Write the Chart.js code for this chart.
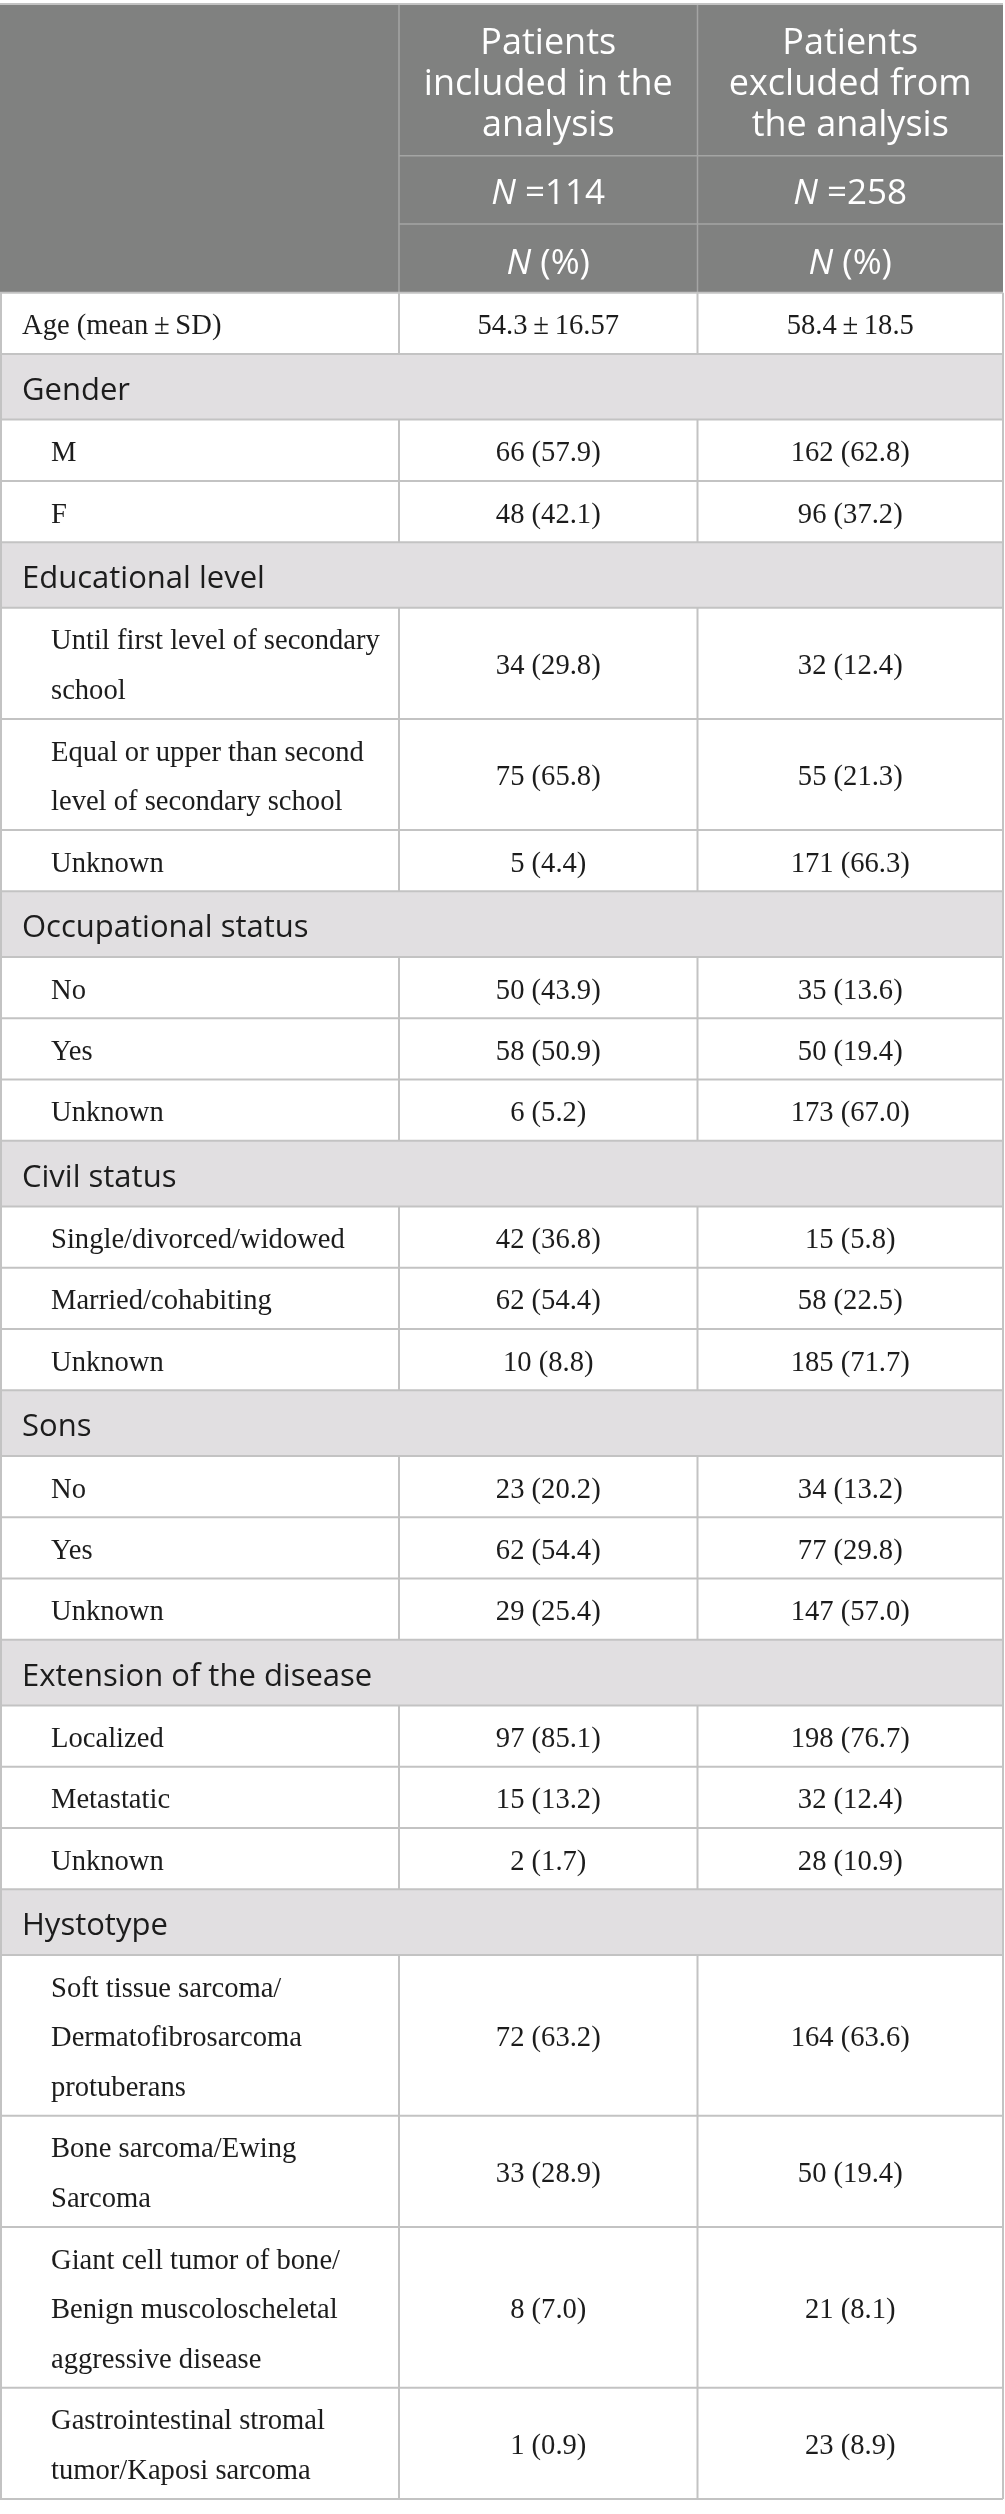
<!DOCTYPE html>
<html>
<head>
<meta charset="utf-8">
<title>Patients included / excluded</title>
<script src="https://cdn.jsdelivr.net/npm/chart.js@4.4.1/dist/chart.umd.min.js"></script>
<style>
    html, body { margin: 0; padding: 0; background: #fff; }
    #wrap { position: relative; width: 1005px; height: 2514px; }
</style>
</head>
<body>
<div id="wrap"><canvas id="tableChart"></canvas></div>
<script>
// Column headers
const columnTitles = [
    ['Patients', 'included in the', 'analysis'],
    ['Patients', 'excluded from', 'the analysis']
];
const groupSizes = [114, 258];

// Age row
const ageLabel = 'Age (mean\u2009±\u2009SD)';
const ageMean = [54.3, 58.4];
const ageSD = [16.57, 18.5];

// Body rows: a row with no counts is a section heading
const rowLabels = [
    'Gender', 'M', 'F',
    'Educational level',
    ['Until first level of secondary', 'school'],
    ['Equal or upper than second', 'level of secondary school'],
    'Unknown',
    'Occupational status', 'No', 'Yes', 'Unknown',
    'Civil status', 'Single/divorced/widowed', 'Married/cohabiting', 'Unknown',
    'Sons', 'No', 'Yes', 'Unknown',
    'Extension of the disease', 'Localized', 'Metastatic', 'Unknown',
    'Hystotype',
    ['Soft tissue sarcoma/', 'Dermatofibrosarcoma', 'protuberans'],
    ['Bone sarcoma/Ewing', 'Sarcoma'],
    ['Giant cell tumor of bone/', 'Benign muscoloscheletal', 'aggressive disease'],
    ['Gastrointestinal stromal', 'tumor/Kaposi sarcoma']
];
const includedN   = [null, 66, 48, null, 34, 75, 5, null, 50, 58, 6, null, 42, 62, 10, null, 23, 62, 29, null, 97, 15, 2, null, 72, 33, 8, 1];
const includedPct = [null, 57.9, 42.1, null, 29.8, 65.8, 4.4, null, 43.9, 50.9, 5.2, null, 36.8, 54.4, 8.8, null, 20.2, 54.4, 25.4, null, 85.1, 13.2, 1.7, null, 63.2, 28.9, 7.0, 0.9];
const excludedN   = [null, 162, 96, null, 32, 55, 171, null, 35, 50, 173, null, 15, 58, 185, null, 34, 77, 147, null, 198, 32, 28, null, 164, 50, 21, 23];
const excludedPct = [null, 62.8, 37.2, null, 12.4, 21.3, 66.3, null, 13.6, 19.4, 67.0, null, 5.8, 22.5, 71.7, null, 13.2, 29.8, 57.0, null, 76.7, 12.4, 10.9, null, 63.6, 19.4, 8.1, 8.9];

// Layout (in axis units, 1 unit = 1 px of the page)
const colEdges = [0, 399, 697.5, 1003];
const tableTop = 4;
const headRows = [151.7, 68.3, 68.7];
const oneLineRow = 61.3;
const lineStep = 49.8;
const sectionRow = 65.6;

const sansFont = "'Open Sans', 'Noto Sans', sans-serif";
const serifFont = "'Liberation Serif', 'Times New Roman', serif";

function drawParts(ctx, parts, cx, y, size) {
    let total = 0;
    parts.forEach(p => {
        ctx.font = (p.italic ? 'italic ' : '') + size + 'px ' + sansFont;
        p.w = ctx.measureText(p.t).width;
        total += p.w;
    });
    let x = cx - total / 2;
    ctx.textAlign = 'left';
    parts.forEach(p => {
        ctx.font = (p.italic ? 'italic ' : '') + size + 'px ' + sansFont;
        ctx.fillText(p.t, x, y);
        x += p.w;
    });
}

const tablePlugin = {
    id: 'tablePlugin',
    afterDraw(chart) {
        const ctx = chart.ctx;
        const xs = chart.scales.x;
        const ys = chart.scales.y;
        const X = v => xs.getPixelForValue(v);
        const Y = v => ys.getPixelForValue(v);
        const colX = colEdges.map(X);
        const colMid = [1, 2].map(i => (colX[i] + colX[i + 1]) / 2);

        ctx.save();
        ctx.textBaseline = 'alphabetic';

        // Header block
        const h0 = tableTop, h1 = h0 + headRows[0], h2 = h1 + headRows[1], h3 = h2 + headRows[2];
        ctx.fillStyle = '#808180';
        ctx.fillRect(colX[0], Y(h0), colX[3] - colX[0], Y(h3) - Y(h0));
        ctx.strokeStyle = '#a4a5a4';
        ctx.lineWidth = 1.5;
        ctx.beginPath();
        [h1, h2].forEach(v => { ctx.moveTo(colX[1], Y(v)); ctx.lineTo(colX[3], Y(v)); });
        [1, 2].forEach(i => { ctx.moveTo(colX[i], Y(h0)); ctx.lineTo(colX[i], Y(h3)); });
        ctx.stroke();

        ctx.fillStyle = '#ffffff';
        ctx.textAlign = 'center';
        ctx.font = '36px ' + sansFont;
        columnTitles.forEach((lines, c) => {
            lines.forEach((t, i) => ctx.fillText(t, colMid[c], Y(h0 + 49.5 + i * 41)));
        });
        groupSizes.forEach((n, c) => {
            drawParts(ctx, [{ t: 'N', italic: true }, { t: ' =' + n }], colMid[c], Y(h1 + 48), 35);
            drawParts(ctx, [{ t: 'N', italic: true }, { t: ' (%)' }], colMid[c], Y(h2 + 50), 35);
        });

        // Body rows
        const rows = [{ label: ageLabel, section: false, vals: ageMean.map((m, c) => m + '\u2009±\u2009' + ageSD[c]), indent: 22 }];
        rowLabels.forEach((lab, i) => {
            const section = includedN[i] === null;
            rows.push({
                label: lab,
                section: section,
                indent: section ? 22 : 51,
                vals: section ? null : [
                    includedN[i] + ' (' + includedPct[i].toFixed(1) + ')',
                    excludedN[i] + ' (' + excludedPct[i].toFixed(1) + ')'
                ]
            });
        });

        let top = h3;
        const lines = [];
        rows.forEach(r => {
            const labLines = Array.isArray(r.label) ? r.label : [r.label];
            const hgt = r.section ? sectionRow : oneLineRow + (labLines.length - 1) * lineStep;
            const bottom = top + hgt;
            const mid = top + hgt / 2;
            if (r.section) {
                ctx.fillStyle = '#e1dfe1';
                ctx.fillRect(colX[0], Y(top), colX[3] - colX[0], Y(bottom) - Y(top));
                ctx.fillStyle = '#1c1c1c';
                ctx.textAlign = 'left';
                ctx.font = '31px ' + sansFont;
                ctx.fillText(labLines[0], X(r.indent), Y(top + 46));
            } else {
                ctx.fillStyle = '#1c1c1c';
                ctx.textAlign = 'left';
                ctx.font = '28.6px ' + serifFont;
                labLines.forEach((t, i) => {
                    ctx.fillText(t, X(r.indent), Y(mid + 11 + (i - (labLines.length - 1) / 2) * lineStep));
                });
                ctx.textAlign = 'center';
                r.vals.forEach((v, c) => ctx.fillText(v, colMid[c], Y(mid + 11)));
            }
            lines.push({ top: top, bottom: bottom, section: r.section });
            top = bottom;
        });

        // Grid lines
        ctx.strokeStyle = '#c3c3c3';
        ctx.lineWidth = 2;
        ctx.beginPath();
        ctx.moveTo(colX[0], Y(h0)); ctx.lineTo(colX[3], Y(h0));
        lines.forEach(l => {
            ctx.moveTo(colX[0], Y(l.top)); ctx.lineTo(colX[3], Y(l.top));
            ctx.moveTo(colX[0], Y(l.bottom)); ctx.lineTo(colX[3], Y(l.bottom));
            ctx.moveTo(colX[0] + 1, Y(l.top)); ctx.lineTo(colX[0] + 1, Y(l.bottom));
            ctx.moveTo(colX[3], Y(l.top)); ctx.lineTo(colX[3], Y(l.bottom));
            if (!l.section) {
                [1, 2].forEach(i => { ctx.moveTo(colX[i], Y(l.top)); ctx.lineTo(colX[i], Y(l.bottom)); });
            }
        });
        ctx.stroke();
        ctx.restore();
    }
};

document.fonts.load('35px "Open Sans"').then(() => document.fonts.load('28px "Liberation Serif"')).finally(() => {
    new Chart(document.getElementById('tableChart'), {
        type: 'scatter',
        data: { datasets: [] },
        options: {
            responsive: true,
            maintainAspectRatio: false,
            animation: false,
            layout: { padding: 0 },
            plugins: { legend: { display: false }, tooltip: { enabled: false } },
            scales: {
                x: { type: 'linear', min: 0, max: 1005, display: false },
                y: { type: 'linear', min: 0, max: 2514, reverse: true, display: false }
            }
        },
        plugins: [tablePlugin]
    });
});
</script>
</body>
</html>
